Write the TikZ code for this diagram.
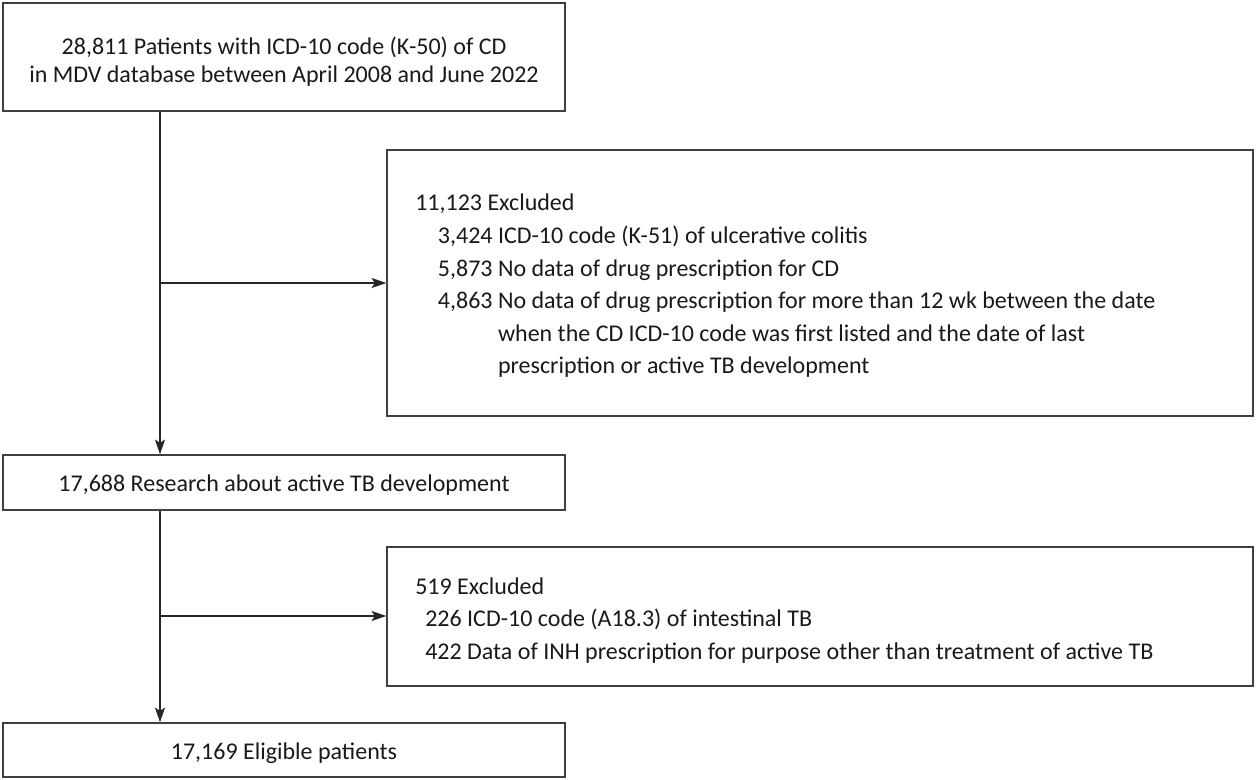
\documentclass[tikz,border=0pt]{standalone}
\usepackage{fontspec}
\setmainfont{Carlito}
\usetikzlibrary{fit,arrows.meta}
\begin{document}
\begin{tikzpicture}[x=0.75pt,y=-0.75pt,
  box/.style={draw=black!75, line width=1.1pt, inner sep=0pt},
  txt/.style={font=\fontsize{18}{21}\selectfont, text=black!90, align=center},
  ltxt/.style={font=\fontsize{18}{24.4}\selectfont, text=black!90, inner sep=0pt, anchor=base west},
  conn/.style={draw=black!85, line width=1.4pt},
  arr/.style={conn, -{Stealth[length=11pt,width=7.5pt,inset=2.5pt]}}]
\useasboundingbox (0,0) rectangle (1256,780);
% main boxes
\node[box, fit={(3,3)(565,111)}] (b1) {};
\node[txt] (t1) at (284,62) {28,811 Patients with ICD-10 code (K-50) of CD\\in MDV database between April 2008 and June 2022};
\node[box, fit={(3,455)(565,510)}] (b2) {};
\node[txt, yshift=-2.2pt] (t2) at (b2.center) {17,688 Research about active TB development};
\node[box, fit={(3,723)(565,777)}] (b3) {};
\node[txt, yshift=-2.5pt] (t3) at (b3.center) {17,169 Eligible patients};
% exclusion boxes
\node[box, fit={(387,150)(1253,416)}] (e1) {};
\node[ltxt] (e1t) at (415,211) {\begin{tabular}[t]{@{}l@{ }l@{}}
\multicolumn{2}{@{}l@{}}{11,123 Excluded}\\
\hspace{17pt}3,424 & ICD-10 code (K-51) of ulcerative colitis\\
\hspace{17pt}5,873 & No data of drug prescription for CD\\
\hspace{17pt}4,863 & No data of drug prescription for more than 12 wk between the date\\
 & when the CD ICD-10 code was first listed and the date of last\\
 & prescription or active TB development
\end{tabular}};
\node[box, fit={(387,547)(1253,686)}] (e2) {};
\node[ltxt] (e2t) at (415,594) {\begin{tabular}[t]{@{}l@{}}
519 Excluded\\
\hspace{7.5pt}226 ICD-10 code (A18.3) of intestinal TB\\
\hspace{7.5pt}422 Data of INH prescription for purpose other than treatment of active TB
\end{tabular}};
% connectors
\coordinate (j1) at (160,283);
\coordinate (j2) at (160,616);
\draw[arr] (b1.south -| j1) -- (b2.north -| j1);
\draw[arr] (j1) -- (j1 -| e1.west);
\draw[arr] (b2.south -| j2) -- (b3.north -| j2);
\draw[arr] (j2) -- (j2 -| e2.west);
\end{tikzpicture}
\end{document}
